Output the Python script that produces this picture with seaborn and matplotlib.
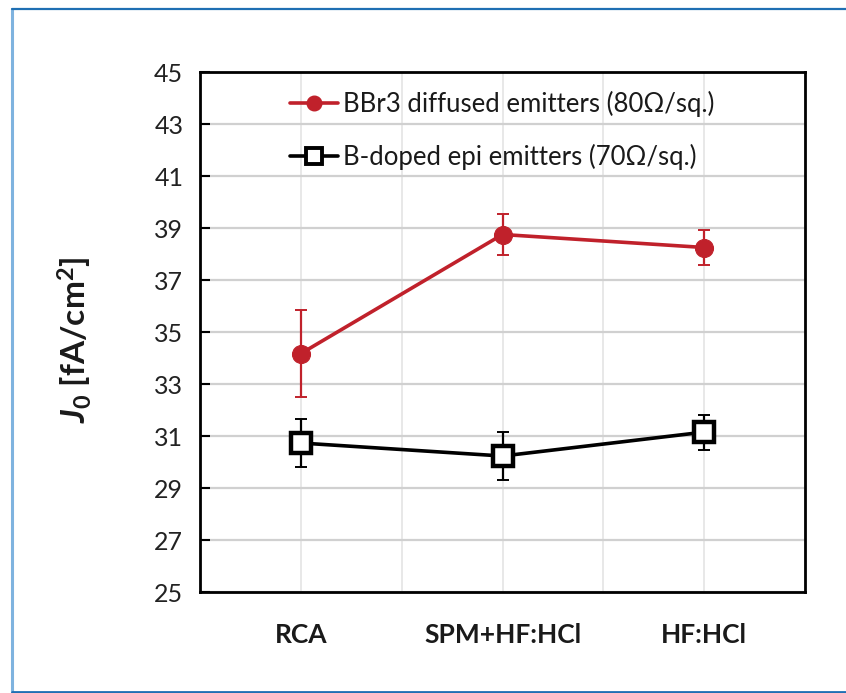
import matplotlib
matplotlib.use("Agg")
import matplotlib.pyplot as plt
import seaborn as sns
import pandas as pd
import numpy as np
from matplotlib.lines import Line2D

categories = ["RCA", "SPM+HF:HCl", "HF:HCl"]
bbr3_values = [34.17, 38.75, 38.25]
bbr3_errors = [1.66, 0.80, 0.67]
epi_values = [30.73, 30.23, 31.15]
epi_errors = [0.91, 0.92, 0.67]
series_names = ["BBr3 diffused emitters (80\u03a9/sq.)", "B-doped epi emitters (70\u03a9/sq.)"]
y_ticks = [25, 27, 29, 31, 33, 35, 37, 39, 41, 43, 45]

sns.set_theme(style="white")
plt.rcParams['font.family'] = ['Lato', 'DejaVu Sans']
plt.rcParams['mathtext.fontset'] = 'custom'
plt.rcParams['mathtext.it'] = 'Lato:italic:bold'
plt.rcParams['mathtext.rm'] = 'Lato:bold'
plt.rcParams['mathtext.bf'] = 'Lato:bold'

df = pd.DataFrame({
    "cat": categories * 2,
    "val": bbr3_values + epi_values,
    "err": bbr3_errors + epi_errors,
    "series": [series_names[0]] * 3 + [series_names[1]] * 3,
})

fig = plt.figure(figsize=(8.46, 6.93), dpi=100)
ax = fig.add_axes([200/846, 1-592/693, (805-200)/846, (592-72)/693])

red = "#c0212b"
colors = [red, "black"]

for i, name in enumerate(series_names):
    sub = df[df.series == name]
    ax.errorbar(np.arange(3), sub["val"], yerr=sub["err"], fmt="none",
                ecolor=colors[i], elinewidth=1.6, capsize=4, capthick=1.4, zorder=3)

sns.lineplot(data=df, x="cat", y="val", hue="series", style="series",
             palette=colors, markers=["o", "s"], dashes=False, ax=ax,
             linewidth=2.6, zorder=4, sort=False)
for ln in ax.get_lines():
    if ln.get_marker() == "o":
        ln.set_markersize(13)
        ln.set_markerfacecolor(red)
        ln.set_markeredgecolor(red)
    elif ln.get_marker() == "s":
        ln.set_markersize(15)
        ln.set_markerfacecolor("white")
        ln.set_markeredgecolor("black")
        ln.set_markeredgewidth(3.2)

ax.set_xlim(-0.5, 2.5)
ax.set_ylim(25, 45)
ax.set_yticks(y_ticks)
ax.set_xticks(range(3))
ax.set_xticklabels(categories, fontsize=19, fontweight="bold", color="#1a1a1a")
ax.tick_params(axis="x", length=0, pad=22)
ax.tick_params(axis="y", direction="in", length=7, width=1.5, color="black",
               labelsize=18, labelcolor="#222222", pad=12, left=True)

for v in np.arange(-0.5, 2.51, 0.5):
    ax.axvline(v, color="#e6e6e6", lw=1.3, zorder=0)
for t in y_ticks:
    ax.axhline(t, color="#d0d0d0", lw=1.6, zorder=0)

for s in ax.spines.values():
    s.set_visible(True)
    s.set_color("black")
    s.set_linewidth(2)

ax.set_xlabel("")
ax.set_ylabel("")
fig.text(0.088, (1-340/693), r"$J_0$ [fA/cm$^2$]",
         rotation=90, fontsize=24, fontweight="bold", ha="center", va="center",
         color="#1a1a1a")

handles = [
    Line2D([], [], color=red, lw=2.6, marker="o", markersize=10.5,
           markerfacecolor=red, markeredgecolor=red),
    Line2D([], [], color="black", lw=2.6, marker="s", markersize=11,
           markerfacecolor="white", markeredgecolor="black", markeredgewidth=2.8),
]
ax.legend(handles, series_names, loc="upper left",
          bbox_to_anchor=((290-200)/605, (592-91)/520), frameon=False,
          fontsize=18.5, handlelength=1.85, labelspacing=1.05, handletextpad=0.2,
          borderaxespad=0, borderpad=0, labelcolor="#1a1a1a")

fig.add_artist(Line2D([12/846, 12/846], [1-9/693, 1-692/693], transform=fig.transFigure,
                      color="#7fb3df", lw=2.2))
fig.add_artist(Line2D([12/846, 1.0], [1-9/693, 1-9/693], transform=fig.transFigure,
                      color="#1f6fb3", lw=1.6))
fig.add_artist(Line2D([12/846, 1.0], [1-691.5/693, 1-691.5/693], transform=fig.transFigure,
                      color="#1f6fb3", lw=2.0))

fig.savefig("out.png", dpi=100)
